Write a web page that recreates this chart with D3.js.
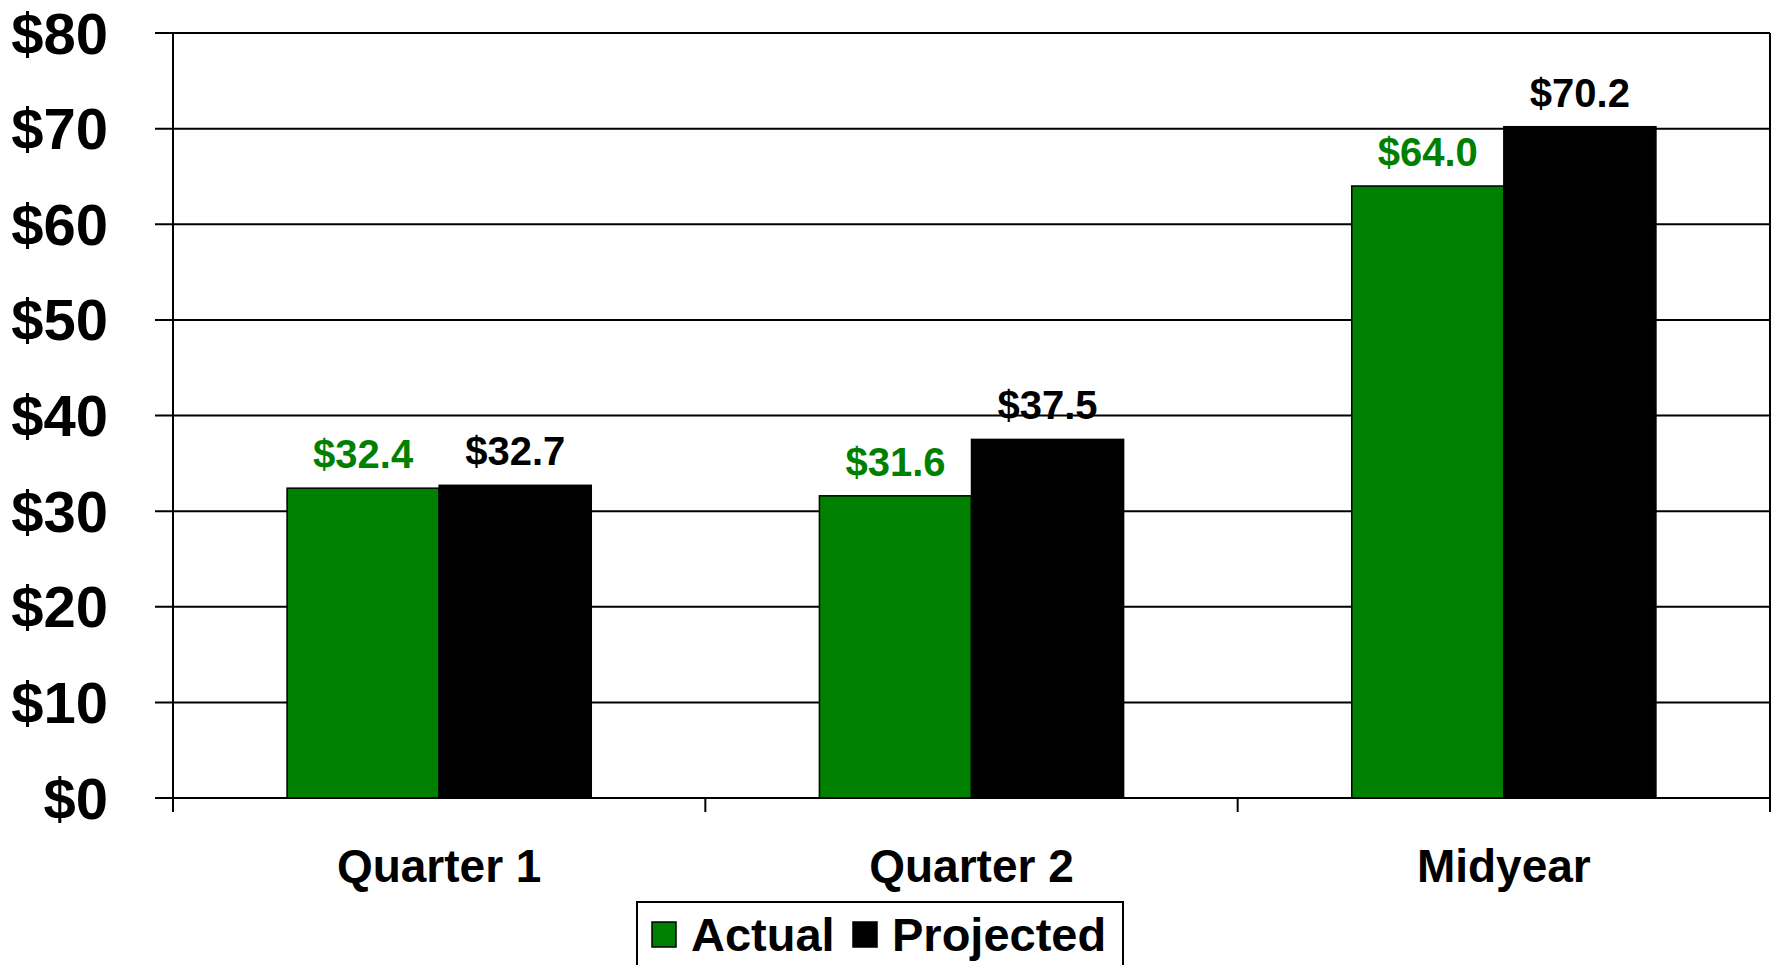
<!DOCTYPE html>
<html>
<head>
<meta charset="utf-8">
<script src="https://cdn.jsdelivr.net/npm/d3@7"></script>
<style>
  html, body { margin: 0; padding: 0; background: #fff; }
  svg { display: block; font-family: Arial, "Liberation Sans", sans-serif; font-weight: bold; }
</style>
</head>
<body>
<div id="app"></div>
<script>
const categories = ["Quarter 1", "Quarter 2", "Midyear"];
const seriesNames = ["Actual", "Projected"];
const actual = [32.4, 31.6, 64.0];
const projected = [32.7, 37.5, 70.2];
const yTicks = [0, 10, 20, 30, 40, 50, 60, 70, 80];
const colors = ["#008000", "#000000"];

const width = 1777;
const height = 965;
const plotLeft = 173;
const plotRight = 1770;
const plotTop = 33;
const plotBottom = 798;

const rows = categories.map((c, i) => ({ cat: c, values: [actual[i], projected[i]] }));

const svg = d3
  .create("svg")
  .attr("width", width)
  .attr("height", height)
  .attr("viewBox", [0, 0, width, height]);

const x = d3.scaleBand().domain(categories).range([plotLeft, plotRight]).paddingInner(0).paddingOuter(0);
const y = d3.scaleLinear().domain([0, 80]).range([plotBottom, plotTop]);

// bar width: band = 2 bars + 150% gap
const barW = x.bandwidth() / 3.5;
const x1 = d3.scaleBand().domain(seriesNames).range([barW * 0.75, barW * 2.75]);

// gridlines
svg
  .append("g")
  .selectAll("line")
  .data(yTicks)
  .join("line")
  .attr("x1", plotLeft - 18)
  .attr("x2", plotRight)
  .attr("y1", (d) => y(d))
  .attr("y2", (d) => y(d))
  .attr("stroke", "#000")
  .attr("stroke-width", 2);

// right border
svg
  .append("line")
  .attr("x1", plotRight)
  .attr("x2", plotRight)
  .attr("y1", plotTop)
  .attr("y2", plotBottom)
  .attr("stroke", "#000")
  .attr("stroke-width", 2);

// bars
const groups = svg
  .append("g")
  .selectAll("g")
  .data(rows)
  .join("g")
  .attr("transform", (d) => `translate(${x(d.cat)},0)`);

groups
  .selectAll("rect")
  .data((d) => d.values.map((v, i) => ({ key: seriesNames[i], v, i })))
  .join("rect")
  .attr("x", (d) => x1(d.key))
  .attr("y", (d) => y(d.v))
  .attr("width", x1.bandwidth())
  .attr("height", (d) => y(0) - y(d.v))
  .attr("fill", (d) => colors[d.i])
  .attr("stroke", "#000")
  .attr("stroke-width", 1.5);

groups
  .selectAll("text")
  .data((d) => d.values.map((v, i) => ({ key: seriesNames[i], v, i })))
  .join("text")
  .attr("x", (d) => x1(d.key) + x1.bandwidth() / 2)
  .attr("y", (d) => y(d.v) - 34)
  .attr("text-anchor", "middle")
  .attr("dominant-baseline", "central")
  .attr("font-size", 40)
  .attr("fill", (d) => colors[d.i])
  .text((d) => `$${d.v.toFixed(1)}`);

// y axis
svg
  .append("line")
  .attr("x1", plotLeft)
  .attr("x2", plotLeft)
  .attr("y1", plotTop)
  .attr("y2", plotBottom + 14)
  .attr("stroke", "#000")
  .attr("stroke-width", 2);

svg
  .append("g")
  .selectAll("text")
  .data(yTicks)
  .join("text")
  .attr("x", 108)
  .attr("y", (d) => y(d))
  .attr("text-anchor", "end")
  .attr("dominant-baseline", "central")
  .attr("font-size", 58)
  .attr("fill", "#000")
  .text((d) => `$${d}`);

// x axis ticks at category boundaries
const bounds = categories.map((c) => x(c)).concat([plotRight]);
svg
  .append("g")
  .selectAll("line")
  .data(bounds)
  .join("line")
  .attr("x1", (d) => d)
  .attr("x2", (d) => d)
  .attr("y1", plotBottom)
  .attr("y2", plotBottom + 14)
  .attr("stroke", "#000")
  .attr("stroke-width", 2);

svg
  .append("g")
  .selectAll("text")
  .data(categories)
  .join("text")
  .attr("x", (d) => x(d) + x.bandwidth() / 2)
  .attr("y", 866)
  .attr("text-anchor", "middle")
  .attr("dominant-baseline", "central")
  .attr("font-size", 46)
  .attr("fill", "#000")
  .text((d) => d);

// legend
const legend = svg.append("g");
legend
  .append("rect")
  .attr("x", 637)
  .attr("y", 902)
  .attr("width", 486)
  .attr("height", 90)
  .attr("fill", "#fff")
  .attr("stroke", "#000")
  .attr("stroke-width", 2);

const legendX = [652, 853];
const items = legend
  .selectAll("g")
  .data(seriesNames)
  .join("g")
  .attr("transform", (d, i) => `translate(${legendX[i]},0)`);

items
  .append("rect")
  .attr("x", 0)
  .attr("y", 922)
  .attr("width", 24)
  .attr("height", 25)
  .attr("fill", (d, i) => colors[i])
  .attr("stroke", "#000")
  .attr("stroke-width", 1.5);

items
  .append("text")
  .attr("x", 39)
  .attr("y", 951)
  .attr("font-size", 47)
  .attr("fill", "#000")
  .text((d) => d);

document.getElementById("app").append(svg.node());
</script>
</body>
</html>
